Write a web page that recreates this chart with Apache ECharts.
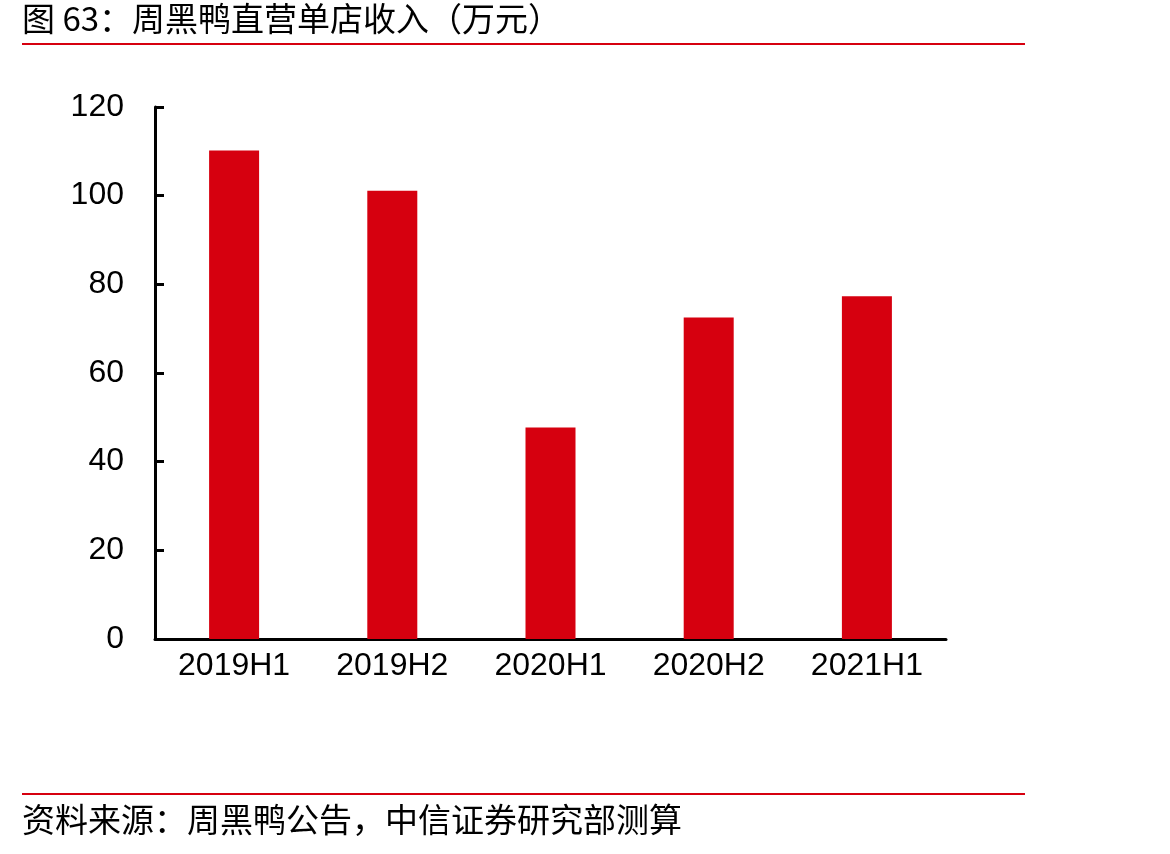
<!DOCTYPE html>
<html>
<head>
<meta charset="utf-8">
<script src="https://cdn.jsdelivr.net/npm/echarts@6/dist/echarts.min.js"></script>
<style>
html, body { margin: 0; padding: 0; background: #fff; }
#chart { width: 1170px; height: 854px; }
</style>
</head>
<body>
<div id="chart"></div>
<script>
var categories = ['2019H1', '2019H2', '2020H1', '2020H2', '2021H1'];
var revenue = [110.2, 101.1, 47.7, 72.5, 77.3];
var yTicks = [0, 20, 40, 60, 80, 100, 120];

var myChart = echarts.init(document.getElementById('chart'));
var cjk = '"Noto Sans CJK SC", sans-serif';
var latin = '"Liberation Sans", Arial, sans-serif';

option = {
    animation: false,
    backgroundColor: '#fff',
    grid: {
        left: 155,
        right: 224,
        top: 107,
        bottom: 215
    },
    graphic: [
        {
            type: 'text',
            left: 22,
            top: 2,
            style: {
                text: '图 63：周黑鸭直营单店收入（万元）',
                font: '33px ' + cjk,
                fill: '#000'
            }
        },
        {
            type: 'rect',
            shape: { x: 22, y: 43, width: 1003, height: 2 },
            style: { fill: '#d6000f' }
        },
        {
            type: 'rect',
            shape: { x: 22, y: 793, width: 1003, height: 2 },
            style: { fill: '#d6000f' }
        },
        {
            type: 'text',
            left: 22,
            top: 803,
            style: {
                text: '资料来源：周黑鸭公告，中信证券研究部测算',
                font: '33px ' + cjk,
                fill: '#000'
            }
        }
    ],
    xAxis: {
        type: 'category',
        data: categories,
        axisLine: { lineStyle: { color: '#000', width: 3 } },
        axisTick: { show: false },
        axisLabel: {
            color: '#000',
            fontSize: 32,
            fontFamily: latin,
            margin: 11
        }
    },
    yAxis: {
        type: 'value',
        min: yTicks[0],
        max: yTicks[yTicks.length - 1],
        interval: yTicks[1] - yTicks[0],
        axisLine: { show: true, lineStyle: { color: '#000', width: 3 } },
        axisTick: { show: true, inside: true, length: 9, lineStyle: { color: '#000', width: 3 } },
        splitLine: { show: false },
        axisLabel: {
            color: '#000',
            fontSize: 32,
            fontFamily: latin,
            margin: 31
        }
    },
    series: [
        {
            type: 'bar',
            data: revenue,
            barWidth: 50,
            itemStyle: { color: '#d6000f' }
        }
    ]
};

myChart.setOption(option);
</script>
</body>
</html>
